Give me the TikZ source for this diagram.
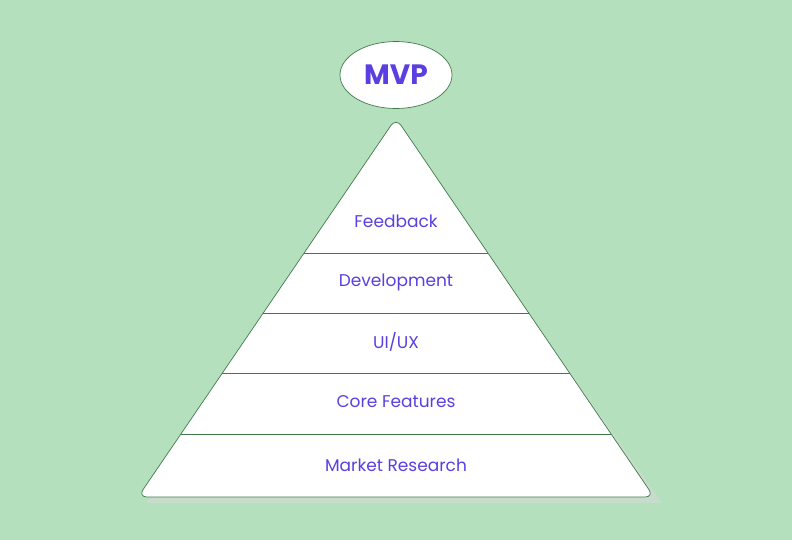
\documentclass[tikz,border=0pt]{standalone}
\usetikzlibrary{shapes.geometric}
\usepackage{fontspec}
\setmainfont{Poppins}
\definecolor{bg}{HTML}{B5E0BE}
\definecolor{edge}{HTML}{3F7A48}
\definecolor{txt}{HTML}{5B3FE0}
\begin{document}
\begin{tikzpicture}[x=1pt,y=-1pt,
  lbl/.style={text=txt,font=\fontsize{17}{20}\selectfont},
  band/.style={draw=edge,line width=0.7pt}]
\fill[bg] (0,0) rectangle (792,540);
\useasboundingbox (0,0) rectangle (792,540);
\coordinate (A) at (396,118);
\coordinate (L) at (138,497);
\coordinate (R) at (654,497);
\fill[black!15,opacity=0.5] (396,124) -- (146,503) -- (662,503) -- cycle;
\draw[band,fill=white,rounded corners=9pt] (A) -- (R) -- (L) -- cycle;
\foreach \y/\n in {253/a,313/b,373/c,434/d}{
  \pgfmathsetmacro{\off}{(\y-118)*0.68074}
  \coordinate (l\n) at (396-\off,\y);
  \coordinate (r\n) at (396+\off,\y);
  \draw[band] (l\n) -- (r\n);
}
\node[draw=edge,fill=white,ellipse,minimum width=112pt,minimum height=67pt,inner sep=0pt,line width=0.7pt,text=txt,font=\fontsize{28}{32}\selectfont\bfseries] (mvp) at (396,75) {MVP};
\node[lbl] (f) at (396,221) {Feedback};
\node[lbl] (d) at (396,282) {Development};
\node[lbl] (u) at (396,342) {UI/UX};
\node[lbl] (c) at (396,402) {Core Features};
\node[lbl] (m) at (396,465) {Market Research};
\end{tikzpicture}
\end{document}
